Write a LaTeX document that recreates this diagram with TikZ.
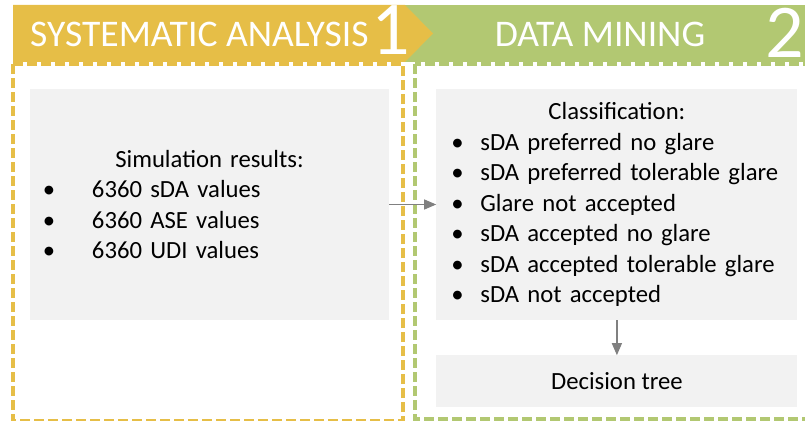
\documentclass[tikz,border=0pt]{standalone}
\usepackage{fontspec}
\setmainfont{Carlito}
\usepackage{xcolor}
\usetikzlibrary{arrows.meta,positioning}
\definecolor{stageyellow}{HTML}{E6BE47}
\definecolor{stagegreen}{HTML}{B2C872}
\definecolor{boxgrey}{HTML}{F2F2F2}
\definecolor{arrowgrey}{HTML}{808080}
\begin{document}
\begin{tikzpicture}[x=1pt,y=-1pt,>={Triangle[length=12pt,width=10pt]}]
        \tikzset{block/.style={fill=boxgrey, inner sep=0pt, align=left, font=\fontsize{24.7}{30.5}\selectfont},
        banner/.style={text=white, inner sep=0pt, font=\fontsize{37.6}{40}\selectfont},
        stepnum/.style={text=white, inner sep=0pt, text height=0.64em, text depth=0pt, font=\fontsize{76}{76}\selectfont},
        stage/.style={line width=3.5pt, dash pattern=on 10pt off 4pt}
        }
        \useasboundingbox (0,0) rectangle (805,420);
        \clip (0,0) rectangle (805,420);

%% stage frames and banners
        \draw[stage, stageyellow] (13,64) rectangle (403,421);
        \draw[stage, stagegreen] (415,64) rectangle (812,419);
        \fill[stagegreen] (405,5) rectangle (805,62);
        \fill[stageyellow] (13,5) -- (405,5) -- (433,33.5) -- (405,62) -- (13,62) -- cycle;
        \node [banner, anchor=base west] (sysa) at (30,46) {SYSTEMATIC ANALYSIS};
        \node [stepnum, anchor=base east] (one) at (410,55) {1};
        \node [banner, anchor=base] (dmin) at (600,46) {DATA MINING};
        \node [stepnum, anchor=base west] (two) at (765,57) {2};

%% boxes
        \node [block, minimum width=359pt, minimum height=231pt, text width=359pt] (sim) at (209.5,204.5)
            {\makebox[359pt]{Simulation results:}\\
             \hspace*{13pt}\makebox[49pt][l]{\textbullet}6360 sDA values\\
             \hspace*{13pt}\makebox[49pt][l]{\textbullet}6360 ASE values\\
             \hspace*{13pt}\makebox[49pt][l]{\textbullet}6360 UDI values};
        \node [block, minimum width=361pt, minimum height=231pt, text width=361pt, right=47pt of sim] (class)
            {\makebox[361pt]{Classification:}\\
             \hspace*{15pt}\makebox[29pt][l]{\textbullet}sDA preferred no glare\\
             \hspace*{15pt}\makebox[29pt][l]{\textbullet}sDA preferred tolerable glare\\
             \hspace*{15pt}\makebox[29pt][l]{\textbullet}Glare not accepted\\
             \hspace*{15pt}\makebox[29pt][l]{\textbullet}sDA accepted no glare\\
             \hspace*{15pt}\makebox[29pt][l]{\textbullet}sDA accepted tolerable glare\\
             \hspace*{15pt}\makebox[29pt][l]{\textbullet}sDA not accepted};
        \node [block, align=center, minimum width=361pt, minimum height=52pt, below=35pt of class] (dtree) {Decision tree};

%% paths
        \path[draw, arrowgrey, line width=1.2pt, ->] (sim) edge (class)
                    (class) edge (dtree);
\end{tikzpicture}
\end{document}
